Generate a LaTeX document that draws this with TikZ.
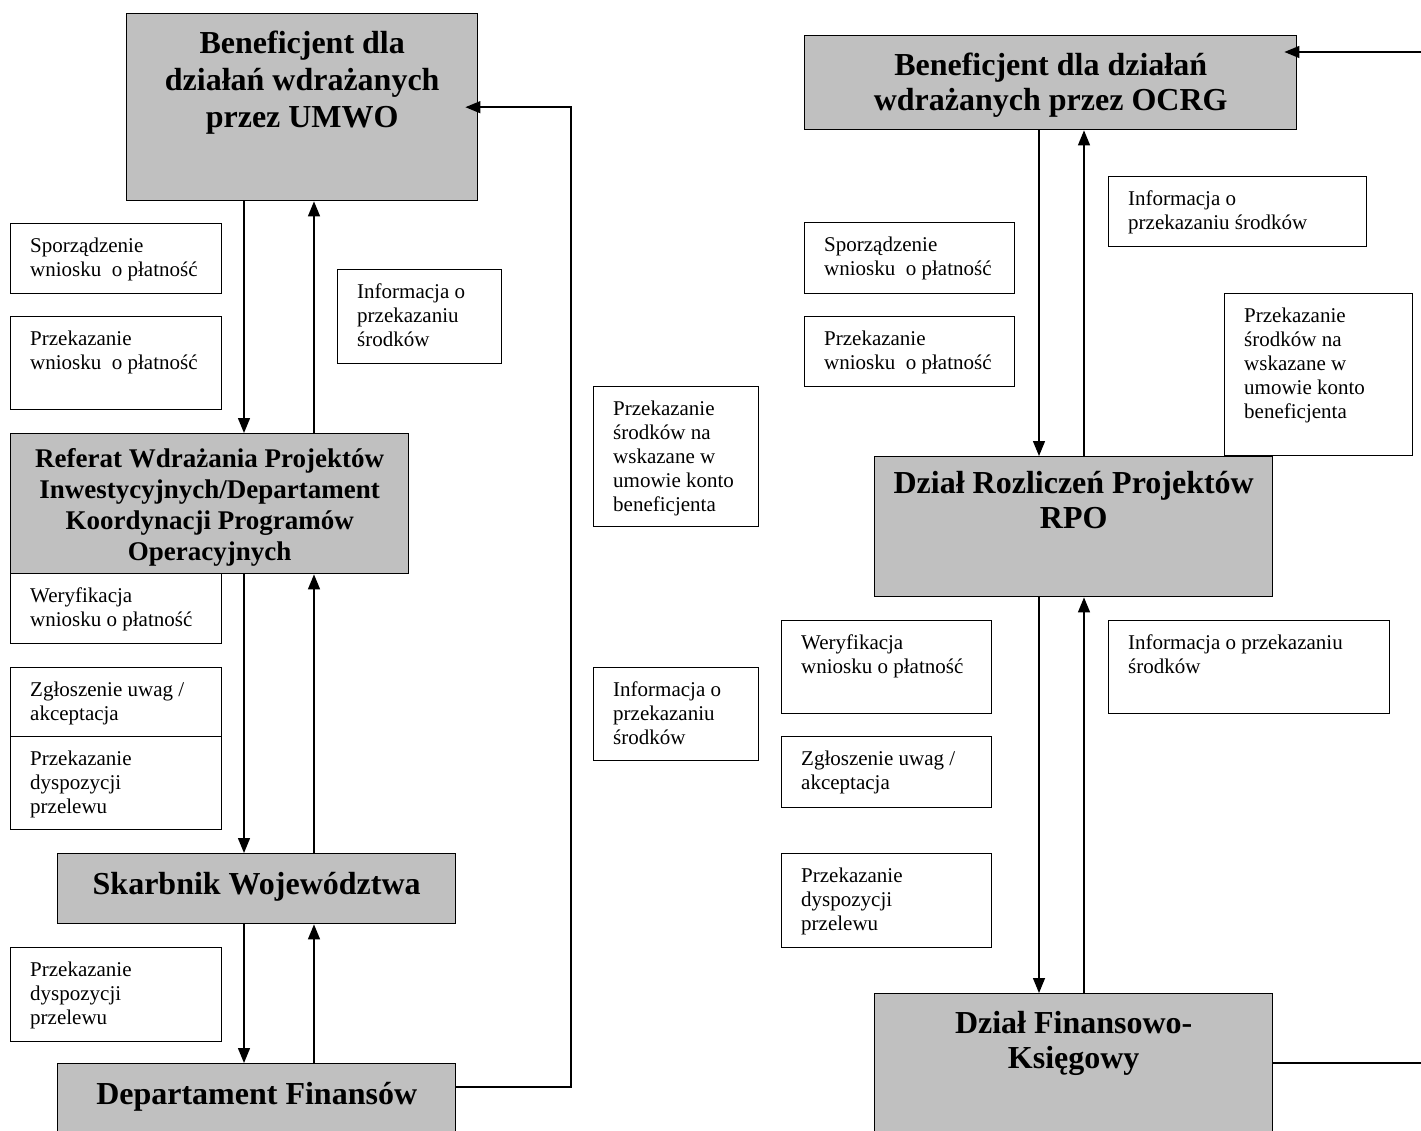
\documentclass[tikz,border=0pt]{standalone}
\usepackage{fontspec}
\setmainfont{Liberation Serif}
\usetikzlibrary{positioning}
\usetikzlibrary{arrows.meta}
\usetikzlibrary{calc}
\definecolor{boxgrey}{RGB}{192,192,192}

\tikzset{
   greybox/.style={draw, fill=boxgrey, line width=1.4pt, anchor=north west, inner sep=0pt},
   notebox/.style={draw, fill=white, line width=1.4pt, anchor=north west, inner sep=0pt},
   headtxt/.style={anchor=north, align=center, inner sep=0pt, yshift=-18pt,
      font=\bfseries\fontsize{32}{37}\selectfont},
   notetxt/.style={anchor=north west, align=left, inner sep=0pt, xshift=20pt, yshift=-15pt,
      font=\fontsize{21}{24}\selectfont},
   flow/.style={-{Triangle[length=15pt,width=12pt]}, line width=1.4pt}
}

\begin{document}
\begin{tikzpicture}[x=1pt, y=-1pt]
    \useasboundingbox (0,0) rectangle (1421,1131);
    \clip (0,0) rectangle (1421,1131);
    % left column (UMWO)
    \node[greybox, minimum width=351, minimum height=187, label={[headtxt]north:Beneficjent dla\\działań wdrażanych\\przez UMWO}] (umwo) at (126,13) {};
    \node[notebox, minimum width=211, minimum height=70, label={[notetxt]north west:Sporządzenie\\wniosku\ \ o płatność}] (spo1) at (10,223) {};
    \node[notebox, minimum width=211, minimum height=93, label={[notetxt]north west:Przekazanie\\wniosku\ \ o płatność}] (prz1) at (10,316) {};
    \node[notebox, minimum width=164, minimum height=94, label={[notetxt]north west:Informacja o\\przekazaniu\\środków}] (inf1) at (337,269) {};
    \node[greybox, minimum width=398, minimum height=140, label={[headtxt, yshift=3pt, font=\bfseries\fontsize{27}{31}\selectfont]north:Referat Wdrażania Projektów\\Inwestycyjnych/Departament\\Koordynacji Programów\\Operacyjnych}] (ref) at (10,433) {};
    \node[notebox, minimum width=211, minimum height=70, label={[notetxt]north west:Weryfikacja\\wniosku o płatność}] (wer1) at (10,573) {};
    \node[notebox, minimum width=211, minimum height=69, label={[notetxt]north west:Zgłoszenie uwag /\\akceptacja}] (zgl1) at (10,667) {};
    \node[notebox, minimum width=211, minimum height=93, label={[notetxt]north west:Przekazanie\\dyspozycji\\przelewu}] (dys1) at (10,736) {};
    \node[greybox, minimum width=398, minimum height=70, label={[headtxt, yshift=-1pt]north:Skarbnik Województwa}] (skarb) at (57,853) {};
    \node[notebox, minimum width=211, minimum height=94, label={[notetxt]north west:Przekazanie\\dyspozycji\\przelewu}] (dys2) at (10,947) {};
    \node[greybox, minimum width=398, minimum height=100, label={[headtxt, yshift=-1pt]north:Departament Finansów}] (depfin) at (57,1063) {};
    % middle
    \node[notebox, minimum width=165, minimum height=140, label={[notetxt]north west:Przekazanie\\środków na\\wskazane w\\umowie konto\\beneficjenta}] (srm) at (593,386) {};
    \node[notebox, minimum width=165, minimum height=93, label={[notetxt]north west:Informacja o\\przekazaniu\\środków}] (infm) at (593,667) {};
    % right column (OCRG)
    \node[greybox, minimum width=492, minimum height=94, label={[headtxt, font=\bfseries\fontsize{32}{35}\selectfont]north:Beneficjent dla działań\\wdrażanych przez OCRG}] (ocrg) at (804,35) {};
    \node[notebox, minimum width=258, minimum height=70, label={[notetxt]north west:Informacja o\\przekazaniu środków}] (inf2) at (1108,176) {};
    \node[notebox, minimum width=210, minimum height=71, label={[notetxt]north west:Sporządzenie\\wniosku\ \ o płatność}] (spo2) at (804,222) {};
    \node[notebox, minimum width=210, minimum height=70, label={[notetxt]north west:Przekazanie\\wniosku\ \ o płatność}] (prz2) at (804,316) {};
    \node[notebox, minimum width=188, minimum height=162, label={[notetxt]north west:Przekazanie\\środków na\\wskazane w\\umowie konto\\beneficjenta}] (srr) at (1224,293) {};
    \node[greybox, minimum width=398, minimum height=140, label={[headtxt, yshift=3pt, font=\bfseries\fontsize{32}{35}\selectfont]north:Dział Rozliczeń Projektów\\RPO}] (rozl) at (874,456) {};
    \node[notebox, minimum width=210, minimum height=93, label={[notetxt]north west:Weryfikacja\\wniosku o płatność}] (wer2) at (781,620) {};
    \node[notebox, minimum width=281, minimum height=93, label={[notetxt]north west:Informacja o przekazaniu\\środków}] (infr) at (1108,620) {};
    \node[notebox, minimum width=210, minimum height=71, label={[notetxt]north west:Zgłoszenie uwag /\\akceptacja}] (zgl2) at (781,736) {};
    \node[notebox, minimum width=210, minimum height=94, label={[notetxt]north west:Przekazanie\\dyspozycji\\przelewu}] (dys3) at (781,853) {};
    \node[greybox, minimum width=398, minimum height=160, label={[headtxt, font=\bfseries\fontsize{32}{35}\selectfont]north:Dział Finansowo-\\Księgowy}] (dfk) at (874,993) {};
    % line positions
    \coordinate (ldn) at (244,0);
    \coordinate (lup) at (314,0);
    \coordinate (lret) at (571,0);
    \coordinate (rdn) at (1039,0);
    \coordinate (rup) at (1084,0);
    \coordinate (rret) at (1440,0);
    % left arrows
    \draw[flow] (umwo.south -| ldn) -- (ref.north -| ldn);
    \draw[flow] (ref.north -| lup) -- (umwo.south -| lup);
    \draw[flow] (ref.south -| ldn) -- (skarb.north -| ldn);
    \draw[flow] (skarb.north -| lup) -- (ref.south -| lup);
    \draw[flow] (skarb.south -| ldn) -- (depfin.north -| ldn);
    \draw[flow] (depfin.north -| lup) -- (skarb.south -| lup);
    \draw[flow] ([yshift=-24pt]depfin.north east) -| (lret |- umwo.east) -- ([xshift=-13pt]umwo.east);
    % right arrows
    \draw[flow] (ocrg.south -| rdn) -- (rozl.north -| rdn);
    \draw[flow] (rozl.north -| rup) -- (ocrg.south -| rup);
    \draw[flow] (rozl.south -| rdn) -- (dfk.north -| rdn);
    \draw[flow] (dfk.north -| rup) -- (rozl.south -| rup);
    \draw[flow] ([yshift=-70pt]dfk.north east) -| (rret |- ocrg.north) |- ([xshift=-13pt, yshift=-17pt]ocrg.north east);
\end{tikzpicture}
\end{document}
